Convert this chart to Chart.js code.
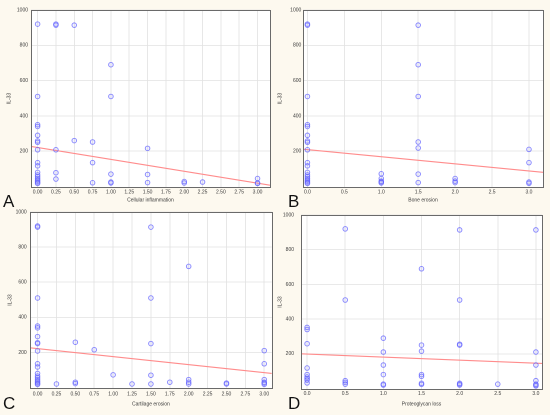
<!DOCTYPE html>
<html><head><meta charset="utf-8">
<script src="https://cdn.jsdelivr.net/npm/chart.js@4.4.1/dist/chart.umd.min.js"></script>
<style>
html,body{margin:0;padding:0;background:#fdf9ef;}
#wrap{position:relative;width:550px;height:415px;overflow:hidden;}
canvas{position:absolute;}
.lbl{position:absolute;font-family:"Liberation Sans",Arial,sans-serif;font-size:17px;line-height:1;color:#111;z-index:5;}
</style></head><body>
<div id="wrap">
<canvas id="cA" width="275" height="205" style="left:0;top:0;width:275px;height:205px"></canvas>
<canvas id="cB" width="275" height="205" style="left:275px;top:0;width:275px;height:205px"></canvas>
<canvas id="cC" width="275" height="210" style="left:0;top:205px;width:275px;height:210px"></canvas>
<canvas id="cD" width="275" height="210" style="left:275px;top:205px;width:275px;height:210px"></canvas>
<div class="lbl" style="left:3px;top:193px">A</div>
<div class="lbl" style="left:288px;top:193px">B</div>
<div class="lbl" style="left:3px;top:395px">C</div>
<div class="lbl" style="left:288px;top:395px">D</div>
</div>
<script>
// ---- data ----
const yLabel = "IL-33";
const yTickValues = [200, 400, 600, 800, 1000];

const titleA = "Cellular inflammation";
const xTicksA = [0, 0.25, 0.5, 0.75, 1, 1.25, 1.5, 1.75, 2, 2.25, 2.5, 2.75, 3];
const aX = [0,0,0,0,0,0,0,0,0,0,0,0,0,0,0,0,0,0,
            0.25,0.25,0.25,0.25,0.25,
            0.5,0.5,
            0.75,0.75,0.75,
            1,1,1,1,1,
            1.5,1.5,1.5,
            2,2,
            2.25,
            3,3,3];
const aY = [920,510,350,340,290,258,250,208,135,117,80,65,55,45,36,29,22,17,
            920,914,208,78,42,
            914,260,
            252,135,21,
            690,510,70,25,20,
            216,68,22,
            28,20,
            25,
            45,20,17];
const fitA = {intercept: 221, slope: -67.5};

const titleB = "Bone erosion";
const xTicksB = [0, 0.5, 1, 1.5, 2, 2.5, 3];
const bX = [0,0,0,0,0,0,0,0,0,0,0,0,0,0,0,0,0,0,0,
            1,1,1,1,1,
            1.5,1.5,1.5,1.5,1.5,1.5,1.5,
            2,2,2,
            3,3,3,3];
const bY = [920,914,510,350,340,290,258,250,208,135,117,80,65,55,45,36,29,22,17,
            72,45,30,25,20,
            914,690,510,252,218,70,22,
            45,30,22,
            210,135,25,18];
const fitB = {intercept: 208.6, slope: -40.2};

const titleC = "Cartilage erosion";
const xTicksC = [0, 0.25, 0.5, 0.75, 1, 1.25, 1.5, 1.75, 2, 2.25, 2.5, 2.75, 3];
const cX = [0,0,0,0,0,0,0,0,0,0,0,0,0,0,0,0,0,0,0,
            0.25,
            0.5,0.5,0.5,
            0.75,
            1,
            1.25,
            1.5,1.5,1.5,1.5,1.5,
            1.75,
            2,2,2,2,
            2.5,2.5,
            3,3,3,3,3,3];
const cY = [920,914,510,350,340,290,255,250,208,135,117,80,65,55,45,36,29,22,17,
            20,
            258,30,22,
            215,
            72,
            20,
            914,510,250,70,20,
            30,
            690,45,30,20,
            25,20,
            210,135,45,30,25,18];
const fitC = {intercept: 221.4, slope: -45.6};

const titleD = "Proteoglycan loss";
const xTicksD = [0, 0.5, 1, 1.5, 2, 2.5, 3];
const dX = [0,0,0,0,0,0,0,0,0,
            0.5,0.5,0.5,0.5,0.5,
            1,1,1,1,1,1,
            1.5,1.5,1.5,1.5,1.5,1.5,1.5,
            2,2,2,2,2,2,2,
            2.5,
            3,3,3,3,3,3,3];
const dY = [352,340,258,118,80,66,57,48,32,
            920,510,45,35,25,
            290,210,135,80,25,20,
            690,250,215,80,70,30,24,
            914,510,255,250,30,25,20,
            25,
            914,210,135,45,25,20,15];
const fitD = {intercept: 198.6, slope: -17.7};

// ---- layout / style ----
const FONT = '"Liberation Sans", Arial, sans-serif';
const TXT = '#3a3a3a';

const framePlugin = {
  id: 'frame',
  beforeDraw(chart) {
    const {ctx, chartArea: a} = chart;
    ctx.save();
    ctx.fillStyle = '#ffffff';
    ctx.fillRect(a.left, a.top, a.right - a.left, a.bottom - a.top);
    ctx.restore();
  },
  afterDraw(chart) {
    const {ctx, chartArea: a} = chart;
    ctx.save();
    ctx.strokeStyle = '#6a6a6a';
    ctx.lineWidth = 1;
    ctx.strokeRect(Math.round(a.left) + 0.5, Math.round(a.top) + 0.5,
                   Math.round(a.right - a.left), Math.round(a.bottom - a.top));
    ctx.restore();
  }
};

function makeChart(id, xs, ys, xTicks, decimals, xTitle, fit, L) {
  const pts = xs.map((x, i) => ({x: x, y: ys[i]}));
  const line = [L.xMin, L.xMax].map(x => ({x: x, y: fit.intercept + fit.slope * x}));
  new Chart(document.getElementById(id), {
    type: 'scatter',
    data: {
      datasets: [
        {
          type: 'line', data: line, borderColor: '#ff8c8c', borderWidth: 1.1,
          pointRadius: 0, fill: false, order: 2
        },
        {
          data: pts, pointRadius: 2.3, pointHoverRadius: 2.3, pointBorderWidth: 0.9,
          borderColor: 'rgba(95,95,255,0.75)', backgroundColor: 'rgba(150,150,255,0.12)',
          order: 1
        }
      ]
    },
    plugins: [framePlugin],
    options: {
      responsive: false, animation: false, devicePixelRatio: 2,
      layout: {padding: {left: 0, top: L.top, right: 275 - L.right, bottom: L.padBottom}},
      plugins: {legend: {display: false}, tooltip: {enabled: false}},
      scales: {
        x: {
          type: 'linear', min: L.xMin, max: L.xMax,
          afterBuildTicks: s => { s.ticks = xTicks.map(v => ({value: v})); },
          afterFit: s => { s.height = L.xAxisH; },
          grid: {color: '#e2e2e2', lineWidth: 0.8, drawTicks: false},
          border: {display: false},
          ticks: {
            font: {family: FONT, size: 5}, color: TXT, padding: L.xPad,
            maxRotation: 0, autoSkip: false,
            callback: v => Number(v).toFixed(decimals)
          },
          title: {display: true, text: xTitle, font: {family: FONT, size: 5}, color: TXT,
                  padding: {top: 0, bottom: 2}}
        },
        y: {
          type: 'linear', min: -3, max: 1000,
          afterBuildTicks: s => { s.ticks = yTickValues.map(v => ({value: v})); },
          afterFit: s => { s.width = L.left; },
          grid: {color: '#e2e2e2', lineWidth: 0.8, drawTicks: false},
          border: {display: false},
          ticks: {font: {family: FONT, size: 5}, color: TXT, padding: L.yPad,
                  callback: v => String(v)},
          title: {display: true, text: yLabel, font: {family: FONT, size: 5}, color: TXT,
                  padding: {top: L.yTitlePad, bottom: 0}}
        }
      }
    }
  });
}

makeChart('cA', aX, aY, xTicksA, 2, titleA, fitA,
  {xMin: -0.09, xMax: 3.17, left: 31, top: 10, right: 270, xAxisH: 18, padBottom: 0, xPad: 2.3, yPad: 3, yTitlePad: 6});
makeChart('cB', bX, bY, xTicksB, 1, titleB, fitB,
  {xMin: -0.06, xMax: 3.19, left: 28, top: 10, right: 268, xAxisH: 18, padBottom: 0, xPad: 2.3, yPad: 1.7, yTitlePad: 2});
makeChart('cC', cX, cY, xTicksC, 2, titleC, fitC,
  {xMin: -0.1, xMax: 3.1, left: 30, top: 7, right: 272, xAxisH: 21, padBottom: 6, xPad: 3.3, yPad: 3.3, yTitlePad: 7});
makeChart('cD', dX, dY, xTicksD, 1, titleD, fitD,
  {xMin: -0.08, xMax: 3.08, left: 26, top: 7, right: 267, xAxisH: 20, padBottom: 6, xPad: 1.7, yPad: 7, yTitlePad: 2});
</script>
</body></html>
